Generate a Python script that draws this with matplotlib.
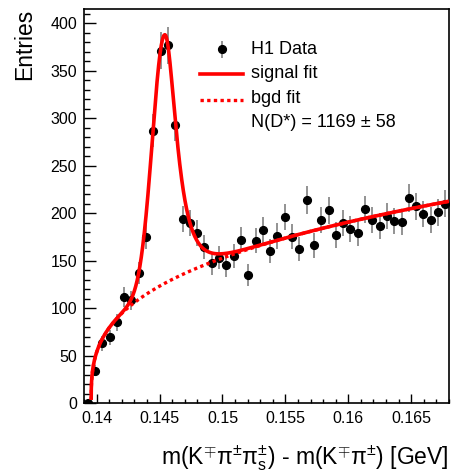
import numpy as np
import matplotlib
matplotlib.use("Agg")
import matplotlib.pyplot as plt
from matplotlib.ticker import MultipleLocator, FixedLocator

plt.rcParams['font.family'] = ['Liberation Sans', 'DejaVu Sans']
plt.rcParams['mathtext.fontset'] = 'custom'
plt.rcParams['mathtext.rm'] = 'Liberation Sans'
plt.rcParams['mathtext.it'] = 'Liberation Sans'
plt.rcParams['mathtext.bf'] = 'Liberation Sans:bold'

# Histogram of the mass difference: 50 bins between 0.139 and 0.168 GeV
X_LO, X_HI, N_BINS = 0.139, 0.168, 50
entries = [0, 34, 63, 69, 85, 112, 108, 137, 175, 287,
           371, 377, 293, 194, 190, 179, 164, 147, 153, 145,
           155, 172, 135, 171, 182, 160, 176, 196, 175, 162,
           214, 166, 193, 203, 177, 190, 183, 179, 204, 193,
           186, 197, 192, 191, 216, 207, 199, 193, 201, 210]

# Fit result: signal yield and shape, background threshold function
N_SIGNAL = 1169
N_SIGNAL_ERR = 58
PEAK_MEAN = 0.1454
SIGMA_LOW = 0.00097
SIGMA_HIGH = 0.00090
M_PION = 0.13957
BKG_NORM = 688.0
BKG_POWER = 0.33

x_ticks = [0.14, 0.145, 0.15, 0.155, 0.16, 0.165]
x_tick_labels = ["0.14", "0.145", "0.15", "0.155", "0.16", "0.165"]
y_ticks = [0, 50, 100, 150, 200, 250, 300, 350, 400]

bin_width = (X_HI - X_LO) / N_BINS
centers = X_LO + (np.arange(N_BINS) + 0.5) * bin_width
counts = np.array(entries, dtype=float)
errors = np.sqrt(counts)


def background(m):
    d = np.clip(m - M_PION, 0, None)
    return BKG_NORM * d ** BKG_POWER


def peak_shape(m):
    m = np.asarray(m, dtype=float)
    out = np.empty_like(m)
    lo = m < PEAK_MEAN
    z_lo = (PEAK_MEAN - m[lo]) / SIGMA_LOW
    out[lo] = np.exp(-0.5 * z_lo ** 2)
    z_hi = (m[~lo] - PEAK_MEAN) / SIGMA_HIGH
    out[~lo] = np.exp(-0.5 * z_hi ** (1.0 + 1.0 / (1.0 + 0.5 * z_hi)))
    return out


grid = np.linspace(PEAK_MEAN - 0.02, PEAK_MEAN + 0.08, 200001)
shape_area = np.trapezoid(peak_shape(grid), grid)


def signal(m):
    return N_SIGNAL * bin_width * peak_shape(m) / shape_area


m_curve = np.concatenate([M_PION + np.geomspace(1e-7, 0.0005, 200),
                          np.linspace(M_PION + 0.0005, X_HI, 1500)])
bkg_curve = background(m_curve)
total_curve = bkg_curve + signal(m_curve)

fig = plt.figure(figsize=(4.52, 4.73), dpi=100)
ax = fig.add_axes([84 / 452, 70 / 473, 365 / 452, 394 / 473])

ax.errorbar(centers, counts, yerr=errors, fmt='o', color='black',
            ms=5.6, ecolor='#808080', elinewidth=1.2, capsize=0, zorder=3)
ax.plot(m_curve, bkg_curve, color='#ff0000', lw=2.4,
        linestyle=(0, (1, 1)), zorder=4)
ax.plot(m_curve, total_curve, color='#ff0000', lw=2.6, zorder=5,
        solid_capstyle='butt')

ax.set_xlim(X_LO, X_HI)
ax.set_ylim(0, 415)

ax.xaxis.set_major_locator(FixedLocator(x_ticks))
ax.set_xticklabels(x_tick_labels)
ax.xaxis.set_minor_locator(MultipleLocator(0.001))
ax.yaxis.set_major_locator(FixedLocator(y_ticks))
ax.yaxis.set_minor_locator(MultipleLocator(10))

ax.tick_params(axis='both', which='both', direction='in', top=False, right=False,
               labelsize=11.5, width=1.0, color='black')
ax.tick_params(axis='x', which='major', length=6.5, pad=6)
ax.tick_params(axis='x', which='minor', length=3.2)
ax.tick_params(axis='y', which='major', length=8.6, pad=5)
ax.tick_params(axis='y', which='minor', length=4.3)
for s in ax.spines.values():
    s.set_linewidth(1.2)

ax.set_xlabel("m(K$^{\\mp}$π$^{\\pm}$π$^{\\pm}_{s}$) - m(K$^{\\mp}$π$^{\\pm}$) [GeV]",
              fontsize=16.5, loc='right', labelpad=12)
ax.set_ylabel("Entries", fontsize=16.5, loc='top', labelpad=10)

# Legend drawn by hand in axes fractions
tr = ax.transAxes
ax.errorbar([0.377], [0.898], yerr=[0.022], fmt='o', color='black', ms=5.6,
            ecolor='#808080', elinewidth=1.2, capsize=0, transform=tr, clip_on=False)
ax.plot([0.318, 0.436], [0.8356, 0.8356], color='#ff0000', lw=2.6, transform=tr)
ax.plot([0.318, 0.436], [0.770, 0.770], color='#ff0000', lw=2.4,
        linestyle=(0, (1, 1)), transform=tr)
labels = ["H1 Data", "signal fit", "bgd fit",
          f"N(D*) = {N_SIGNAL} ± {N_SIGNAL_ERR}"]
for lab, fy in zip(labels, [0.898, 0.836, 0.773, 0.712]):
    ax.text(0.4575, fy, lab, transform=tr, fontsize=13, va='center', ha='left')

fig.savefig("out.png", dpi=100)
